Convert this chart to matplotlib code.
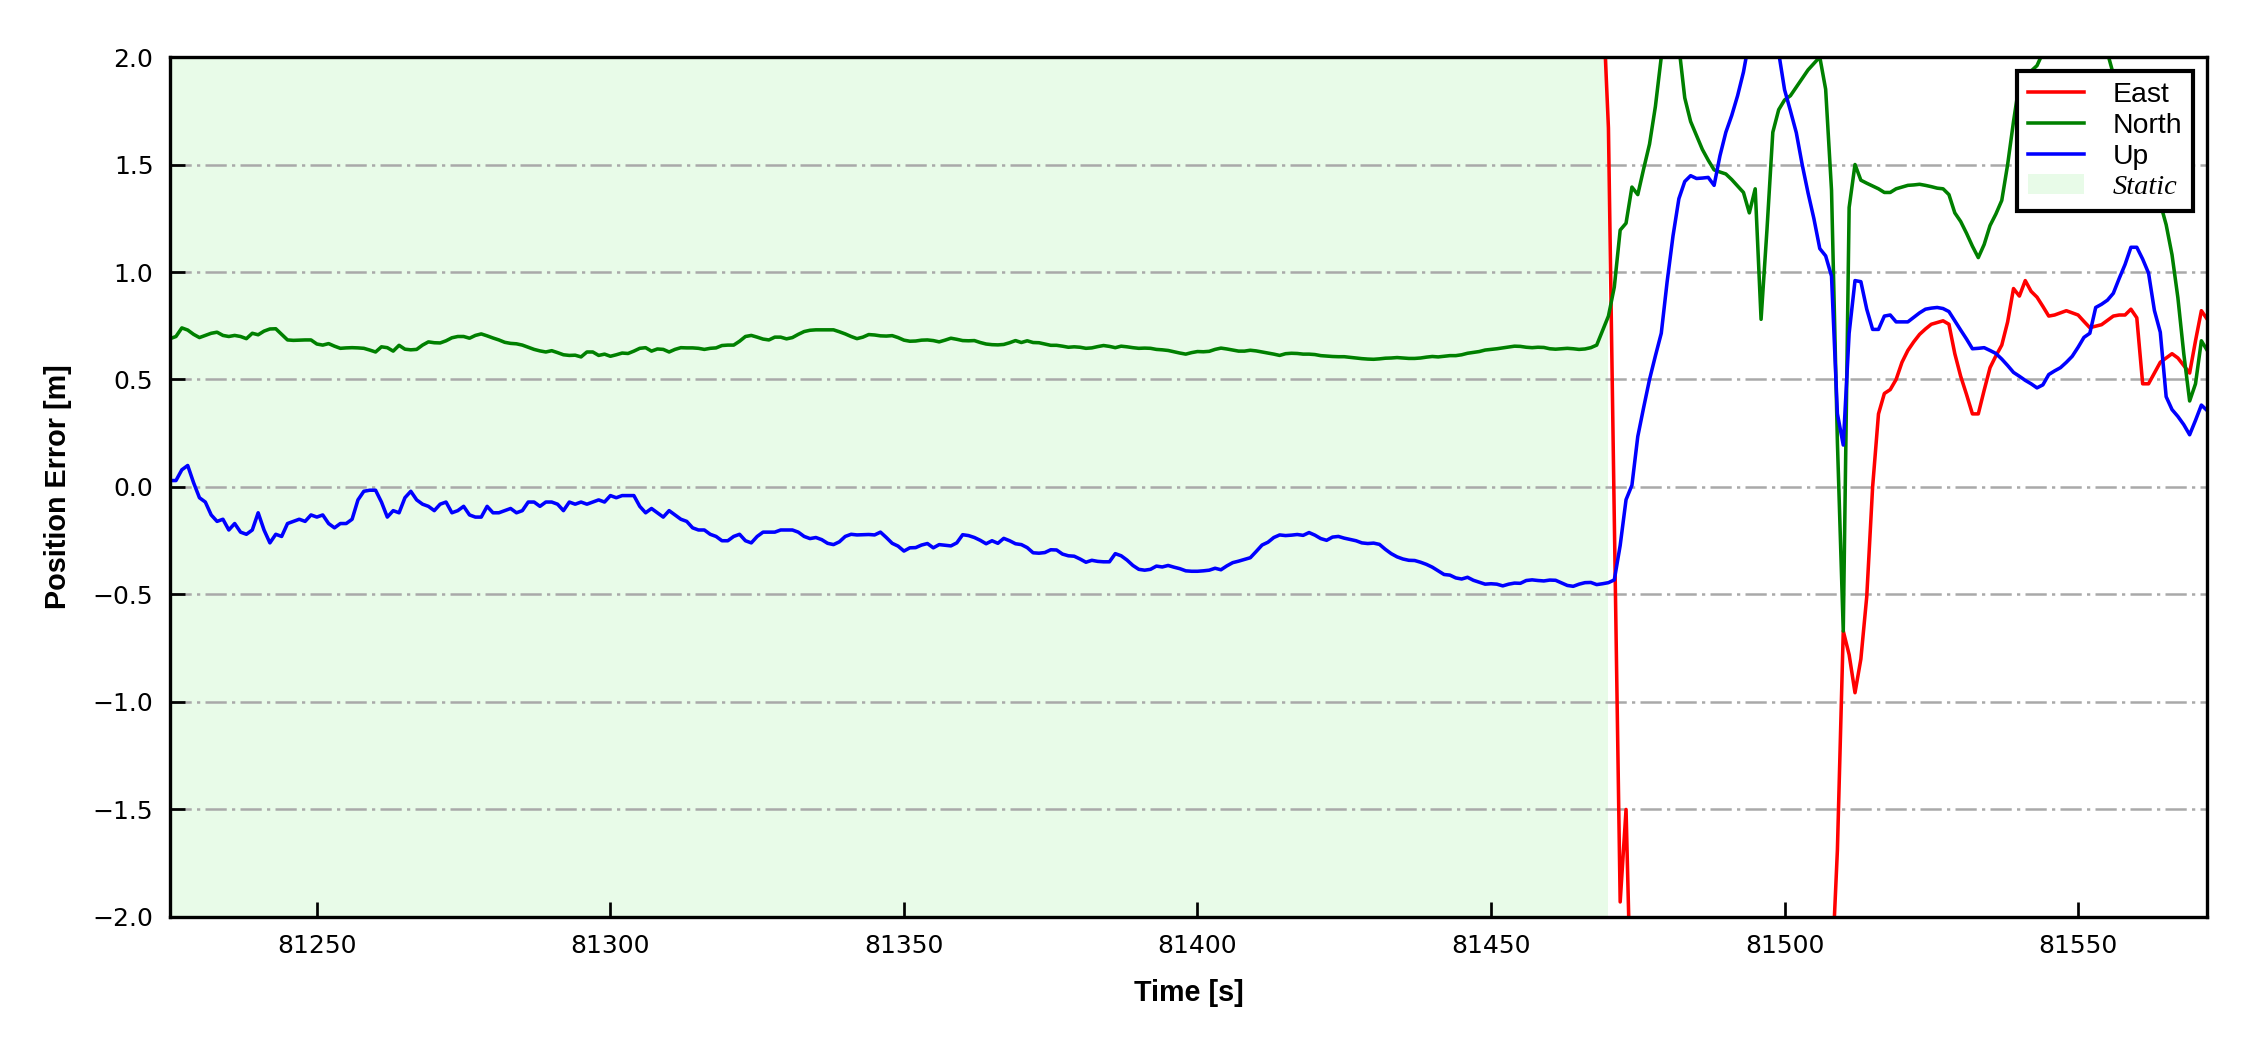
import numpy as np
import matplotlib
matplotlib.use('Agg')
import matplotlib.pyplot as plt
from matplotlib.patches import Patch
from matplotlib.lines import Line2D
from matplotlib.font_manager import FontProperties

# time span of the record [s], 1 Hz
t_start, t_end = 81225, 81572
static_end = 81470
east_start = 81469

# North error [m], 81225 .. 81572
north = [
    0.69, 0.70, 0.74, 0.73, 0.71, 0.695, 0.705, 0.715, 0.72, 0.705,
    0.70, 0.705, 0.70, 0.69, 0.715, 0.708, 0.725, 0.735, 0.736, 0.71,
    0.684, 0.682, 0.683, 0.684, 0.684, 0.665, 0.66, 0.667, 0.655, 0.645,
    0.647, 0.648, 0.647, 0.645, 0.637, 0.628, 0.652, 0.648, 0.632, 0.659,
    0.641, 0.638, 0.64, 0.66, 0.675, 0.671, 0.67, 0.68, 0.694, 0.70,
    0.70, 0.692, 0.705, 0.712, 0.703, 0.693, 0.684, 0.673, 0.668, 0.666,
    0.66, 0.65, 0.64, 0.633, 0.628, 0.634, 0.625, 0.615, 0.612, 0.613,
    0.605, 0.628, 0.628, 0.612, 0.618, 0.608, 0.615, 0.623, 0.621, 0.632,
    0.645, 0.648, 0.632, 0.642, 0.640, 0.628, 0.640, 0.648, 0.647, 0.647,
    0.645, 0.640, 0.645, 0.647, 0.658, 0.660, 0.660, 0.678, 0.700, 0.705,
    0.697, 0.688, 0.684, 0.697, 0.697, 0.689, 0.695, 0.710, 0.723, 0.729,
    0.731, 0.731, 0.731, 0.731, 0.722, 0.712, 0.700, 0.690, 0.697, 0.709,
    0.707, 0.703, 0.702, 0.704, 0.695, 0.683, 0.678, 0.679, 0.683, 0.684,
    0.681, 0.675, 0.683, 0.692, 0.687, 0.681, 0.680, 0.681, 0.672, 0.665,
    0.662, 0.661, 0.663, 0.671, 0.681, 0.672, 0.680, 0.672, 0.671, 0.665,
    0.659, 0.659, 0.655, 0.650, 0.652, 0.650, 0.645, 0.647, 0.653, 0.658,
    0.654, 0.648, 0.655, 0.652, 0.648, 0.645, 0.646, 0.645, 0.640, 0.638,
    0.635, 0.629, 0.623, 0.618, 0.625, 0.630, 0.629, 0.631, 0.640, 0.646,
    0.642, 0.637, 0.632, 0.632, 0.636, 0.633, 0.628, 0.623, 0.618, 0.612,
    0.620, 0.622, 0.621, 0.618, 0.618, 0.616, 0.611, 0.609, 0.607, 0.606,
    0.606, 0.603, 0.600, 0.597, 0.595, 0.594, 0.596, 0.599, 0.600, 0.602,
    0.600, 0.598, 0.598, 0.600, 0.604, 0.607, 0.605, 0.608, 0.611, 0.611,
    0.615, 0.622, 0.626, 0.630, 0.637, 0.640, 0.643, 0.647, 0.651, 0.655,
    0.654, 0.650, 0.648, 0.650, 0.649, 0.643, 0.641, 0.643, 0.645, 0.643,
    0.640, 0.642, 0.648, 0.66, 0.728, 0.795, 0.93, 1.195, 1.227, 1.395,
    1.36, 1.48, 1.595, 1.77, 2.0, 2.12, 2.18, 2.05, 1.81, 1.70,
    1.635, 1.57, 1.52, 1.475, 1.465, 1.456, 1.43, 1.40, 1.37, 1.275,
    1.387, 0.78, 1.195, 1.65, 1.755, 1.80, 1.82, 1.86, 1.90, 1.94,
    1.97, 2.0, 1.85, 1.38, 0.21, -0.67, 1.30, 1.50, 1.427, 1.413,
    1.40, 1.387, 1.37, 1.37, 1.387, 1.395, 1.403, 1.405, 1.408, 1.403,
    1.397, 1.39, 1.387, 1.36, 1.275, 1.235, 1.18, 1.12, 1.067, 1.128,
    1.216, 1.27, 1.333, 1.50, 1.70, 1.88, 1.92, 1.935, 1.96, 2.02,
    2.1, 2.15, 2.2, 2.22, 2.22, 2.22, 2.2, 2.17, 2.12, 2.07,
    2.02, 1.92, 1.80, 1.70, 1.62, 1.55, 1.48, 1.42, 1.36, 1.32,
    1.22, 1.08, 0.88, 0.62, 0.40, 0.48, 0.68, 0.635,
]

# Up error [m], 81225 .. 81572
up = [
    0.03, 0.03, 0.08, 0.10, 0.02, -0.05, -0.07, -0.13, -0.16, -0.15,
    -0.20, -0.17, -0.21, -0.22, -0.20, -0.12, -0.20, -0.26, -0.22, -0.23,
    -0.17, -0.16, -0.15, -0.16, -0.13, -0.14, -0.13, -0.17, -0.19, -0.17,
    -0.17, -0.15, -0.06, -0.02, -0.015, -0.015, -0.07, -0.14, -0.11, -0.12,
    -0.05, -0.02, -0.06, -0.08, -0.09, -0.11, -0.08, -0.07, -0.12, -0.11,
    -0.09, -0.13, -0.14, -0.14, -0.09, -0.12, -0.12, -0.11, -0.10, -0.12,
    -0.11, -0.07, -0.07, -0.09, -0.07, -0.07, -0.08, -0.11, -0.07, -0.08,
    -0.07, -0.08, -0.07, -0.06, -0.07, -0.04, -0.05, -0.04, -0.04, -0.04,
    -0.09, -0.12, -0.10, -0.12, -0.14, -0.11, -0.13, -0.15, -0.16, -0.19,
    -0.20, -0.20, -0.22, -0.23, -0.25, -0.25, -0.23, -0.22, -0.25, -0.26,
    -0.23, -0.21, -0.21, -0.21, -0.20, -0.20, -0.20, -0.21, -0.23, -0.24,
    -0.235, -0.245, -0.262, -0.268, -0.255, -0.23, -0.22, -0.223, -0.222, -0.221,
    -0.223, -0.21, -0.235, -0.262, -0.275, -0.298, -0.283, -0.282, -0.27, -0.263,
    -0.283, -0.268, -0.271, -0.274, -0.26, -0.222, -0.226, -0.235, -0.248, -0.264,
    -0.25, -0.262, -0.239, -0.25, -0.264, -0.268, -0.282, -0.306, -0.308, -0.305,
    -0.292, -0.293, -0.312, -0.32, -0.322, -0.335, -0.35, -0.341, -0.346, -0.348,
    -0.348, -0.31, -0.32, -0.34, -0.365, -0.383, -0.387, -0.383, -0.368, -0.372,
    -0.365, -0.373, -0.38, -0.39, -0.392, -0.392, -0.39, -0.387, -0.378, -0.385,
    -0.367, -0.352, -0.345, -0.337, -0.329, -0.30, -0.27, -0.257, -0.235, -0.223,
    -0.226, -0.224, -0.221, -0.225, -0.212, -0.224, -0.24, -0.248, -0.233, -0.23,
    -0.238, -0.244, -0.25, -0.26, -0.263, -0.261, -0.267, -0.29, -0.31, -0.325,
    -0.335, -0.341, -0.342, -0.35, -0.36, -0.373, -0.39, -0.407, -0.41, -0.423,
    -0.428, -0.42, -0.434, -0.443, -0.452, -0.45, -0.452, -0.46, -0.452, -0.447,
    -0.448, -0.435, -0.432, -0.435, -0.437, -0.433, -0.434, -0.446, -0.458, -0.462,
    -0.452, -0.445, -0.444, -0.454, -0.45, -0.445, -0.432, -0.272, -0.059, 0.008,
    0.235, 0.37, 0.50, 0.61, 0.715, 0.955, 1.168, 1.341, 1.421, 1.448,
    1.435, 1.437, 1.44, 1.403, 1.541, 1.65, 1.728, 1.82, 1.93, 2.08,
    2.2, 2.25, 2.2, 2.12, 2.02, 1.848, 1.75, 1.648, 1.5, 1.368,
    1.248, 1.109, 1.075, 0.981, 0.341, 0.195, 0.715, 0.96, 0.955, 0.827,
    0.733, 0.733, 0.795, 0.80, 0.768, 0.768, 0.768, 0.789, 0.81, 0.827,
    0.832, 0.835, 0.83, 0.816, 0.773, 0.73, 0.688, 0.643, 0.645, 0.648,
    0.635, 0.621, 0.595, 0.565, 0.533, 0.515, 0.496, 0.48, 0.461, 0.475,
    0.523, 0.54, 0.555, 0.58, 0.608, 0.65, 0.696, 0.715, 0.835, 0.85,
    0.869, 0.901, 0.97, 1.035, 1.115, 1.115, 1.06, 0.995, 0.821, 0.72,
    0.42, 0.36, 0.328, 0.29, 0.243, 0.31, 0.381, 0.355,
]

# East error [m], 81469 .. 81572 (off scale before; None = far below -2)
east = [
    2.3, 1.67, -0.15, -1.93, -1.5, -2.6, None, None, None, None,
    None, None, None, None, None, None, None, None, None, None,
    None, None, None, None, None, None, None, None, None, None,
    None, None, None, None, None, None, None, None, None, -2.3,
    -1.69, -0.67, -0.78, -0.957, -0.80, -0.51, 0.0, 0.34, 0.435, 0.453,
    0.50, 0.58, 0.635, 0.675, 0.71, 0.735, 0.757, 0.765, 0.773, 0.757,
    0.62, 0.515, 0.43, 0.34, 0.34, 0.45, 0.555, 0.61, 0.66, 0.768,
    0.923, 0.888, 0.96, 0.91, 0.883, 0.84, 0.795, 0.80, 0.81, 0.82,
    0.81, 0.80, 0.77, 0.741, 0.748, 0.755, 0.775, 0.795, 0.80, 0.80,
    0.827, 0.787, 0.48, 0.48, 0.53, 0.58, 0.60, 0.62, 0.60, 0.565,
    0.53, 0.68, 0.82, 0.78,
]

time = np.arange(t_start, t_end + 1)
time_east = np.arange(east_start, t_end + 1)
east_arr = np.array(east, dtype=float)

plt.rcParams['font.family'] = ['Liberation Sans', 'DejaVu Sans']

fig, ax = plt.subplots(figsize=(7.5, 3.5), dpi=300)
fig.subplots_adjust(left=0.0756, right=0.981, bottom=0.1267, top=0.9457)

ax.axvspan(t_start, static_end, color='lightgreen', alpha=0.2, lw=0)
ax.plot(time_east, east_arr, color='red', lw=0.85)
ax.plot(time, north, color='green', lw=0.85)
ax.plot(time, up, color='blue', lw=0.85)

ax.set_xlim(t_start, t_end)
ax.set_ylim(-2, 2)
ax.set_yticks(np.arange(-2, 2.01, 0.5))
ax.set_xticks(np.arange(81250, 81551, 50))
ax.ticklabel_format(axis='x', useOffset=False, style='plain')

ax.grid(True, axis='y', linestyle=(0, (8.5, 2.1, 1.3, 2.1)), color='darkgray', linewidth=0.6)
ax.tick_params(direction='in', length=3.6, width=0.65)
ax.tick_params(axis='x', pad=4.2)
ax.tick_params(axis='y', pad=4.0)
for lab in ax.get_xticklabels() + ax.get_yticklabels():
    lab.set_fontfamily('DejaVu Sans')
    lab.set_fontsize(6)
for sp in ax.spines.values():
    sp.set_linewidth(0.8)

ax.set_xlabel('Time [s]', fontsize=6.9, fontweight='bold', labelpad=5)
ax.set_ylabel('Position Error [m]', fontsize=6.9, fontweight='bold', labelpad=5)

handles = [
    Line2D([], [], color='red', lw=0.85),
    Line2D([], [], color='green', lw=0.85),
    Line2D([], [], color='blue', lw=0.85),
    Patch(facecolor='lightgreen', alpha=0.2, edgecolor='none'),
]
leg = ax.legend(handles, ['East', 'North', 'Up', 'Static'], loc='upper right',
                fontsize=6.8, fancybox=False, edgecolor='black', framealpha=1,
                handlelength=2.0, handletextpad=1.0, labelspacing=0.17,
                borderpad=0.38, borderaxespad=0.5)
leg.get_frame().set_linewidth(1.0)
leg.get_texts()[3].set_fontproperties(
    FontProperties(family='Liberation Serif', style='italic', size=6.8))

fig.savefig('out.png', dpi=300)
